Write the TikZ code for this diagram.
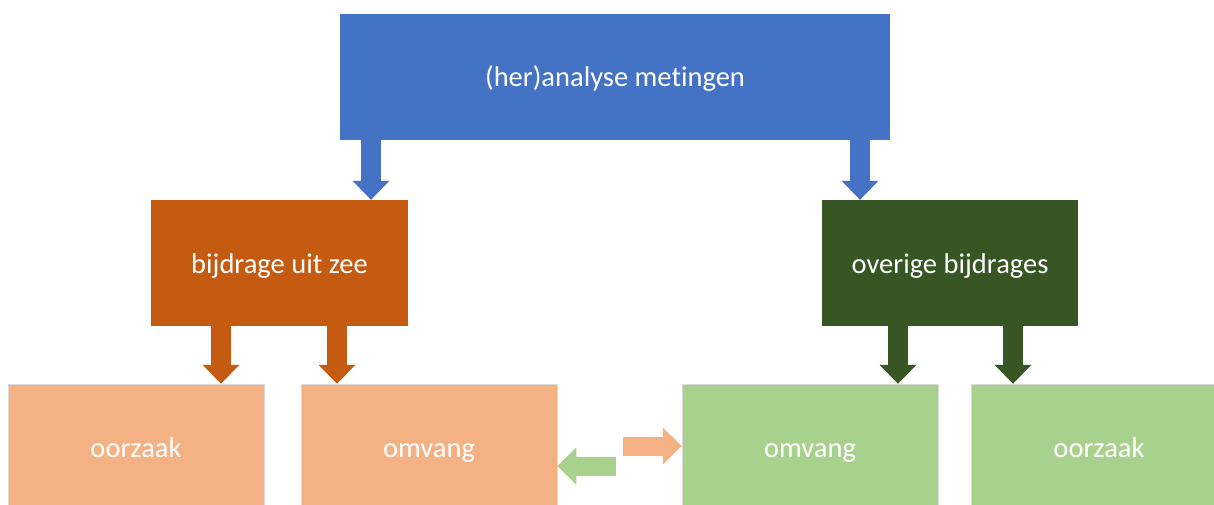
\documentclass[tikz,border=0pt]{standalone}
\usepackage{fontspec}
\setmainfont{Carlito}[Ligatures=NoCommon]
\usetikzlibrary{arrows.meta}
\definecolor{kopblauw}{HTML}{4472C4}
\definecolor{zeeoranje}{HTML}{C55A11}
\definecolor{overiggroen}{HTML}{375623}
\definecolor{lichtoranje}{HTML}{F4B183}
\definecolor{lichtgroen}{HTML}{A9D18E}
\begin{document}
\begin{tikzpicture}[x=1pt, y=-1pt,
    every node/.style={font=\fontsize{28.5}{34}\selectfont, text=white, inner sep=0pt,
      text height=20pt, text depth=0pt},
    blok/.style={minimum width=256pt, minimum height=126pt},
    laag/.style={blok, draw=black!15, line width=0.5pt},
    pijl/.style={line width=20pt, -{Triangle[length=19pt, width=37pt, line width=0pt]}},
    zijpijl/.style={line width=19pt, -{Triangle[length=19pt, width=37pt, line width=0pt]}}]
  \def\bovenrij{77}
  \def\middenrij{263}
  \def\onderrij{447}

  \useasboundingbox (0,0) rectangle (1214,505);
  \clip (0,0) rectangle (1214,505);

  \node[blok, fill=kopblauw, minimum width=550pt] (analyse) at (615,\bovenrij) {(her)analyse metingen};
  \node[blok, fill=zeeoranje, minimum width=257pt] (zee) at (279.5,\middenrij) {bijdrage uit zee};
  \node[blok, fill=overiggroen] (overig) at (950,\middenrij) {overige bijdrages};

  \node[laag, fill=lichtoranje] (oorzaakzee) at (136,\onderrij) {oorzaak};
  \node[laag, fill=lichtoranje] (omvangzee) at (429,\onderrij) {omvang};
  \node[laag, fill=lichtgroen] (omvangoverig) at (810,\onderrij) {omvang};
  \node[laag, fill=lichtgroen] (oorzaakoverig) at (1099,\onderrij) {oorzaak};

  \coordinate (a1) at (371,0);
  \coordinate (a2) at (860,0);
  \coordinate (z1) at (221,0);
  \coordinate (z2) at (337,0);
  \coordinate (o1) at (898,0);
  \coordinate (o2) at (1013,0);
  \coordinate (naargroen) at (623,446);
  \coordinate (naaroranje) at (616,466);

  \draw[pijl, kopblauw] (analyse.south -| a1) -- (zee.north -| a1);
  \draw[pijl, kopblauw] (analyse.south -| a2) -- (overig.north -| a2);
  \draw[pijl, zeeoranje] (zee.south -| z1) -- (oorzaakzee.north -| z1);
  \draw[pijl, zeeoranje] (zee.south -| z2) -- (omvangzee.north -| z2);
  \draw[pijl, overiggroen] (overig.south -| o1) -- (omvangoverig.north -| o1);
  \draw[pijl, overiggroen] (overig.south -| o2) -- (oorzaakoverig.north -| o2);
  \draw[zijpijl, lichtoranje] (naargroen) -- (naargroen -| omvangoverig.west);
  \draw[zijpijl, lichtgroen] (naaroranje) -- (naaroranje -| omvangzee.east);
\end{tikzpicture}
\end{document}
